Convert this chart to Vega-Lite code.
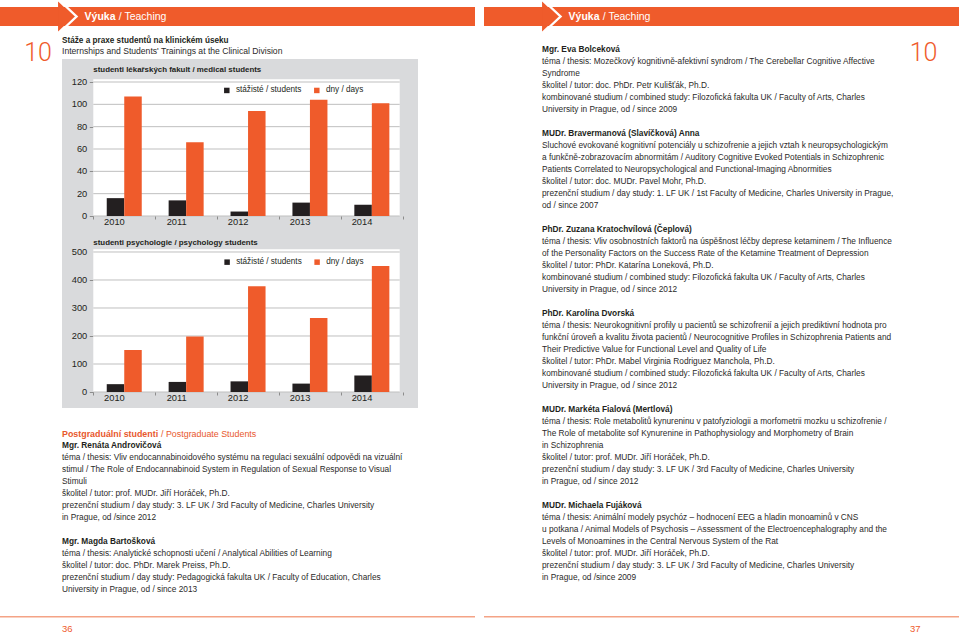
{
  "$schema": "https://vega.github.io/schema/vega-lite/v6.json",
  "padding": 0,
  "background": "#ffffff",
  "config": {
    "view": {"stroke": null},
    "font": "Liberation Sans",
    "text": {"color": "#2b2a29", "fontSize": 8.3, "align": "left", "baseline": "middle"},
    "axis": {"labelColor": "#231f20", "labelFontSize": 9.3, "tickColor": "#8c8c8c", "grid": false, "domain": false},
    "legend": {"labelColor": "#231f20", "labelFontSize": 8.2}
  },
  "datasets": {
    "pages": [
      {"page": "36", "section": "Výuka", "section_en": "/ Teaching"},
      {"page": "37", "section": "Výuka", "section_en": "/ Teaching"}
    ],
    "chapter": [{"chapter": "10"}],
    "medical": [
      {"year": "2010", "series": "stážisté / students", "value": 16},
      {"year": "2010", "series": "dny / days", "value": 107},
      {"year": "2011", "series": "stážisté / students", "value": 14},
      {"year": "2011", "series": "dny / days", "value": 66},
      {"year": "2012", "series": "stážisté / students", "value": 4},
      {"year": "2012", "series": "dny / days", "value": 94},
      {"year": "2013", "series": "stážisté / students", "value": 12},
      {"year": "2013", "series": "dny / days", "value": 104},
      {"year": "2014", "series": "stážisté / students", "value": 10},
      {"year": "2014", "series": "dny / days", "value": 101}
    ],
    "psych": [
      {"year": "2010", "series": "stážisté / students", "value": 28},
      {"year": "2010", "series": "dny / days", "value": 150},
      {"year": "2011", "series": "stážisté / students", "value": 36},
      {"year": "2011", "series": "dny / days", "value": 198},
      {"year": "2012", "series": "stážisté / students", "value": 38},
      {"year": "2012", "series": "dny / days", "value": 378},
      {"year": "2013", "series": "stážisté / students", "value": 30},
      {"year": "2013", "series": "dny / days", "value": 264},
      {"year": "2014", "series": "stážisté / students", "value": 59},
      {"year": "2014", "series": "dny / days", "value": 450}
    ],
    "medicalTicks": [{"tick": 0}, {"tick": 20}, {"tick": 40}, {"tick": 60}, {"tick": 80}, {"tick": 100}, {"tick": 120}],
    "psychTicks": [{"tick": 0}, {"tick": 100}, {"tick": 200}, {"tick": 300}, {"tick": 400}, {"tick": 500}],
    "titleText": [
      {"line": 0, "kind": "name", "text": "Stáže a praxe studentů na klinickém úseku"},
      {"line": 1, "kind": "body", "text": "Internships and Students' Trainings at the Clinical Division"}
    ],
    "leftText": [
      {"line": 0, "kind": "heading", "text": "Postgraduální studenti", "en": "/ Postgraduate Students"},
      {"line": 1, "kind": "name", "text": "Mgr. Renáta Androvičová"},
      {"line": 2, "kind": "body", "text": "téma / thesis: Vliv endocannabinoidového systému na regulaci sexuální odpovědi na vizuální"},
      {"line": 3, "kind": "body", "text": "stimul / The Role of Endocannabinoid System in Regulation of Sexual Response to Visual"},
      {"line": 4, "kind": "body", "text": "Stimuli"},
      {"line": 5, "kind": "body", "text": "školitel / tutor: prof. MUDr. Jiří Horáček, Ph.D."},
      {"line": 6, "kind": "body", "text": "prezenční studium / day study: 3. LF UK / 3rd Faculty of Medicine, Charles University"},
      {"line": 7, "kind": "body", "text": "in Prague, od /since 2012"},
      {"line": 9, "kind": "name", "text": "Mgr. Magda Bartošková"},
      {"line": 10, "kind": "body", "text": "téma / thesis: Analytické schopnosti učení / Analytical Abilities of Learning"},
      {"line": 11, "kind": "body", "text": "školitel / tutor: doc. PhDr. Marek Preiss, Ph.D."},
      {"line": 12, "kind": "body", "text": "prezenční studium / day study: Pedagogická fakulta UK / Faculty of Education, Charles"},
      {"line": 13, "kind": "body", "text": "University in Prague, od / since 2013"}
    ],
    "rightText": [
      {"line": 0, "kind": "name", "text": "Mgr. Eva Bolceková"},
      {"line": 1, "kind": "body", "text": "téma / thesis: Mozečkový kognitivně-afektivní syndrom / The Cerebellar Cognitive Affective"},
      {"line": 2, "kind": "body", "text": "Syndrome"},
      {"line": 3, "kind": "body", "text": "školitel / tutor: doc. PhDr. Petr Kulišťák, Ph.D."},
      {"line": 4, "kind": "body", "text": "kombinované studium / combined study: Filozofická fakulta UK / Faculty of Arts, Charles"},
      {"line": 5, "kind": "body", "text": "University in Prague, od / since 2009"},
      {"line": 7, "kind": "name", "text": "MUDr. Bravermanová (Slavíčková) Anna"},
      {"line": 8, "kind": "body", "text": "Sluchové evokované kognitivní potenciály u schizofrenie a jejich vztah k neuropsychologickým"},
      {"line": 9, "kind": "body", "text": "a funkčně-zobrazovacím abnormitám / Auditory Cognitive Evoked Potentials in Schizophrenic"},
      {"line": 10, "kind": "body", "text": "Patients Correlated to Neuropsychological and Functional-Imaging Abnormities"},
      {"line": 11, "kind": "body", "text": "školitel / tutor:  doc. MUDr. Pavel Mohr, Ph.D."},
      {"line": 12, "kind": "body", "text": "prezenční studium / day study: 1. LF UK / 1st Faculty of Medicine, Charles University in Prague,"},
      {"line": 13, "kind": "body", "text": "od / since 2007"},
      {"line": 15, "kind": "name", "text": "PhDr. Zuzana Kratochvílová (Čeplová)"},
      {"line": 16, "kind": "body", "text": "téma / thesis: Vliv osobnostních faktorů na úspěšnost léčby deprese ketaminem / The Influence"},
      {"line": 17, "kind": "body", "text": "of the Personality Factors on the Success Rate of the Ketamine Treatment of Depression"},
      {"line": 18, "kind": "body", "text": "školitel / tutor: PhDr. Katarína Loneková, Ph.D."},
      {"line": 19, "kind": "body", "text": "kombinované studium / combined study: Filozofická fakulta UK / Faculty of Arts, Charles"},
      {"line": 20, "kind": "body", "text": "University in Prague, od / since 2012"},
      {"line": 22, "kind": "name", "text": "PhDr. Karolína Dvorská"},
      {"line": 23, "kind": "body", "text": "téma / thesis: Neurokognitivní profily u pacientů se schizofrenií a jejich prediktivní hodnota pro"},
      {"line": 24, "kind": "body", "text": "funkční úroveň a kvalitu života pacientů / Neurocognitive Profiles in Schizophrenia Patients and"},
      {"line": 25, "kind": "body", "text": "Their Predictive Value for Functional Level and Quality of Life"},
      {"line": 26, "kind": "body", "text": "školitel / tutor: PhDr. Mabel Virginia Rodriguez Manchola, Ph.D."},
      {"line": 27, "kind": "body", "text": "kombinované studium / combined study: Filozofická fakulta UK / Faculty of Arts, Charles"},
      {"line": 28, "kind": "body", "text": "University in Prague, od / since 2012"},
      {"line": 30, "kind": "name", "text": "MUDr. Markéta Fialová (Mertlová)"},
      {"line": 31, "kind": "body", "text": "téma / thesis: Role metabolitů kynureninu v patofyziologii a morfometrii mozku u schizofrenie /"},
      {"line": 32, "kind": "body", "text": "The Role of metabolite sof Kynurenine in Pathophysiology and Morphometry of Brain"},
      {"line": 33, "kind": "body", "text": "in Schizophrenia"},
      {"line": 34, "kind": "body", "text": "školitel / tutor: prof. MUDr. Jiří Horáček, Ph.D."},
      {"line": 35, "kind": "body", "text": "prezenční studium / day study: 3. LF UK / 3rd Faculty of Medicine, Charles University"},
      {"line": 36, "kind": "body", "text": "in Prague, od / since 2012"},
      {"line": 38, "kind": "name", "text": "MUDr. Michaela Fujáková"},
      {"line": 39, "kind": "body", "text": "téma / thesis: Animální modely psychóz – hodnocení EEG a hladin monoaminů v CNS"},
      {"line": 40, "kind": "body", "text": "u potkana / Animal Models of Psychosis – Assessment of the Electroencephalography and the"},
      {"line": 41, "kind": "body", "text": "Levels of Monoamines in the Central Nervous System of the Rat"},
      {"line": 42, "kind": "body", "text": "školitel / tutor: prof. MUDr. Jiří Horáček, Ph.D."},
      {"line": 43, "kind": "body", "text": "prezenční studium / day study: 3. LF UK / 3rd Faculty of Medicine, Charles University"},
      {"line": 44, "kind": "body", "text": "in Prague, od /since 2009"}
    ]
  },
  "spacing": 0,
  "bounds": "full",
  "resolve": {"scale": {"color": "independent", "xOffset": "independent"}, "legend": {"color": "independent"}},
  "vconcat": [
    {
      "width": 959,
      "height": 35,
      "data": {"name": "pages"},
      "encoding": {
        "x": {"field": "page", "type": "nominal", "scale": {"type": "band", "paddingInner": 0.0186, "paddingOuter": 0}, "axis": null},
        "y": {"field": "section", "type": "nominal", "scale": {"type": "band", "paddingInner": 0, "paddingOuter": 0.421, "align": 0.4375}, "axis": null}
      },
      "layer": [
        {"mark": {"type": "rect", "color": "#ef5b2b"}},
        {
          "mark": {"type": "point", "shape": "M-0.53,-1L0.53,0L-0.53,1Z", "filled": true, "color": "#ef5b2b", "size": 900, "opacity": 1, "strokeWidth": 0},
          "encoding": {"x": {"field": "page", "type": "nominal", "bandPosition": 0.139}}
        },
        {
          "mark": {"type": "point", "shape": "M-0.095,-0.75L0.70,0L-0.095,0.75", "filled": false, "color": "#ffffff", "strokeWidth": 2.4, "size": 900, "opacity": 1},
          "encoding": {"x": {"field": "page", "type": "nominal", "bandPosition": 0.139}}
        },
        {
          "mark": {"type": "text", "fontWeight": "bold", "fontSize": 10.5, "color": "#ffffff", "align": "left"},
          "encoding": {"x": {"field": "page", "type": "nominal", "bandPosition": 0.178}, "text": {"field": "section"}}
        },
        {
          "mark": {"type": "text", "fontSize": 10.5, "color": "#ffffff", "align": "left"},
          "encoding": {"x": {"field": "page", "type": "nominal", "bandPosition": 0.25}, "text": {"field": "section_en"}}
        }
      ]
    },
    {
      "spacing": 0,
      "bounds": "full",
      "resolve": {"scale": {"color": "independent", "xOffset": "independent"}, "legend": {"color": "independent"}},
      "hconcat": [
        {
          "width": 62,
          "height": 35,
          "data": {"name": "chapter"},
          "mark": {"type": "text", "font": "Roboto", "fontWeight": 300, "fontSize": 25, "color": "#ef5b2b", "align": "center", "dx": 7},
          "encoding": {"text": {"field": "chapter"}}
        },
        {
          "spacing": 0,
          "bounds": "flush",
          "resolve": {"scale": {"color": "independent", "xOffset": "independent"}, "legend": {"color": "independent"}},
          "vconcat": [
            {
              "width": 480,
              "height": 24,
              "data": {"name": "titleText"},
              "encoding": {
                "x": {"datum": "col", "type": "nominal", "scale": {"type": "band", "paddingInner": 0, "paddingOuter": 0}, "bandPosition": 0, "axis": null},
                "y": {"field": "line", "type": "quantitative", "scale": {"domain": [-0.63, 1.77], "reverse": true, "nice": false, "zero": false}, "axis": null},
                "text": {"field": "text"}
              },
              "layer": [
                {"transform": [{"filter": "datum.kind === 'name'"}], "mark": {"type": "text", "fontWeight": "bold", "fontSize": 8.2, "color": "#231f20"}},
                {"transform": [{"filter": "datum.kind === 'body'"}], "mark": {"type": "text", "fontSize": 8.6}}
              ]
            },
            {
              "width": 356,
              "height": 176,
              "view": {"fill": "#d9dadc", "stroke": null},
              "data": {"name": "medical"},
              "layer": [
                {
                  "data": {"values": [{"part": "plot"}]},
                  "mark": {"type": "rect", "color": "#ffffff"},
                  "encoding": {
                    "x": {"datum": "2010", "type": "ordinal", "bandPosition": 0, "scale": {"type": "band", "paddingInner": 0, "paddingOuter": 0.3756, "align": 0.673}},
                    "x2": {"datum": "2014", "bandPosition": 0.95},
                    "y": {"datum": 0, "type": "quantitative", "scale": {"domain": [-17.01, 140.6], "nice": false, "zero": false}},
                    "y2": {"datum": 122.4}
                  }
                },
                {
                  "data": {"name": "medicalTicks"},
                  "mark": {"type": "rule", "color": "#bfbfbf", "strokeWidth": 1},
                  "encoding": {
                    "x": {"datum": "2010", "type": "ordinal", "bandPosition": 0, "scale": {"type": "band", "paddingInner": 0, "paddingOuter": 0.3756, "align": 0.673}},
                    "x2": {"datum": "2014", "bandPosition": 0.95},
                    "y": {"field": "tick", "type": "quantitative", "scale": {"domain": [-17.01, 140.6], "nice": false, "zero": false}}
                  }
                },
                {
                  "data": {"name": "medicalTicks"},
                  "mark": {"type": "text", "align": "right", "dx": -6, "fontSize": 9.3, "color": "#231f20"},
                  "encoding": {
                    "x": {"datum": "2010", "type": "ordinal", "bandPosition": 0, "scale": {"type": "band", "paddingInner": 0, "paddingOuter": 0.3756, "align": 0.673}},
                    "y": {"field": "tick", "type": "quantitative", "scale": {"domain": [-17.01, 140.6], "nice": false, "zero": false}},
                    "text": {"field": "tick"}
                  }
                },
                {
                  "mark": {"type": "bar"},
                  "encoding": {
                    "x": {"field": "year", "type": "ordinal", "scale": {"type": "band", "paddingInner": 0, "paddingOuter": 0.3756, "align": 0.673},
                      "axis": {"title": null, "labelAngle": 0, "tickBand": "extent", "tickSize": 3, "labelPadding": 2, "offset": -19}},
                    "xOffset": {"field": "series", "type": "nominal", "scale": {"domain": ["stážisté / students", "dny / days"], "paddingInner": 0, "paddingOuter": 0.768}},
                    "y": {"field": "value", "type": "quantitative", "scale": {"domain": [-17.01, 140.6], "nice": false, "zero": false},
                      "axis": {"title": null, "values": [0, 20, 40, 60, 80, 100, 120], "labels": false, "tickSize": 4, "offset": -31.3}},
                    "color": {"field": "series", "type": "nominal",
                      "scale": {"domain": ["stážisté / students", "dny / days"], "range": ["#231f20", "#ef5b2b"]},
                      "legend": {"title": null, "orient": "none", "legendX": 160.7, "legendY": 27, "direction": "horizontal", "symbolType": "square", "symbolSize": 30, "symbolStrokeWidth": 0, "labelOffset": 5, "columnPadding": 11, "padding": 0}}
                  }
                },
                {
                  "data": {"values": [{"title": "studenti lékařských fakult / medical students"}]},
                  "mark": {"type": "text", "fontWeight": "bold", "fontSize": 7.9, "align": "left", "color": "#231f20"},
                  "encoding": {
                    "x": {"datum": "2010", "type": "ordinal", "bandPosition": 0, "scale": {"type": "band", "paddingInner": 0, "paddingOuter": 0.3756, "align": 0.673}},
                    "y": {"datum": 130.75, "type": "quantitative", "scale": {"domain": [-17.01, 140.6], "nice": false, "zero": false}},
                    "text": {"field": "title"}
                  }
                }
              ]
            },
            {
              "width": 356,
              "height": 173,
              "view": {"fill": "#d9dadc", "stroke": null},
              "data": {"name": "psych"},
              "layer": [
                {
                  "data": {"values": [{"part": "plot"}]},
                  "mark": {"type": "rect", "color": "#ffffff"},
                  "encoding": {
                    "x": {"datum": "2010", "type": "ordinal", "bandPosition": 0, "scale": {"type": "band", "paddingInner": 0, "paddingOuter": 0.3756, "align": 0.673}},
                    "x2": {"datum": "2014", "bandPosition": 0.95},
                    "y": {"datum": 0, "type": "quantitative", "scale": {"domain": [-57.14, 560.71], "nice": false, "zero": false}},
                    "y2": {"datum": 509.6}
                  }
                },
                {
                  "data": {"name": "psychTicks"},
                  "mark": {"type": "rule", "color": "#bfbfbf", "strokeWidth": 1},
                  "encoding": {
                    "x": {"datum": "2010", "type": "ordinal", "bandPosition": 0, "scale": {"type": "band", "paddingInner": 0, "paddingOuter": 0.3756, "align": 0.673}},
                    "x2": {"datum": "2014", "bandPosition": 0.95},
                    "y": {"field": "tick", "type": "quantitative", "scale": {"domain": [-57.14, 560.71], "nice": false, "zero": false}}
                  }
                },
                {
                  "data": {"name": "psychTicks"},
                  "mark": {"type": "text", "align": "right", "dx": -6, "fontSize": 9.3, "color": "#231f20"},
                  "encoding": {
                    "x": {"datum": "2010", "type": "ordinal", "bandPosition": 0, "scale": {"type": "band", "paddingInner": 0, "paddingOuter": 0.3756, "align": 0.673}},
                    "y": {"field": "tick", "type": "quantitative", "scale": {"domain": [-57.14, 560.71], "nice": false, "zero": false}},
                    "text": {"field": "tick"}
                  }
                },
                {
                  "mark": {"type": "bar"},
                  "encoding": {
                    "x": {"field": "year", "type": "ordinal", "scale": {"type": "band", "paddingInner": 0, "paddingOuter": 0.3756, "align": 0.673},
                      "axis": {"title": null, "labelAngle": 0, "tickBand": "extent", "tickSize": 3, "labelPadding": 2, "offset": -16}},
                    "xOffset": {"field": "series", "type": "nominal", "scale": {"domain": ["stážisté / students", "dny / days"], "paddingInner": 0, "paddingOuter": 0.768}},
                    "y": {"field": "value", "type": "quantitative", "scale": {"domain": [-57.14, 560.71], "nice": false, "zero": false},
                      "axis": {"title": null, "values": [0, 100, 200, 300, 400, 500], "labels": false, "tickSize": 4, "offset": -31.3}},
                    "color": {"field": "series", "type": "nominal",
                      "scale": {"domain": ["stážisté / students", "dny / days"], "range": ["#231f20", "#ef5b2b"]},
                      "legend": {"title": null, "orient": "none", "legendX": 161, "legendY": 22.7, "direction": "horizontal", "symbolType": "square", "symbolSize": 30, "symbolStrokeWidth": 0, "labelOffset": 5, "columnPadding": 11, "padding": 0}}
                  }
                },
                {
                  "data": {"values": [{"title": "studenti psychologie / psychology students"}]},
                  "mark": {"type": "text", "fontWeight": "bold", "fontSize": 7.9, "align": "left", "color": "#231f20"},
                  "encoding": {
                    "x": {"datum": "2010", "type": "ordinal", "bandPosition": 0, "scale": {"type": "band", "paddingInner": 0, "paddingOuter": 0.3756, "align": 0.673}},
                    "y": {"datum": 533.9, "type": "quantitative", "scale": {"domain": [-57.14, 560.71], "nice": false, "zero": false}},
                    "text": {"field": "title"}
                  }
                }
              ]
            },
            {
              "width": 480,
              "height": 208,
              "data": {"name": "leftText"},
              "encoding": {
                "x": {"datum": "col", "type": "nominal", "scale": {"type": "band", "paddingInner": 0, "paddingOuter": 0}, "bandPosition": 0, "axis": null},
                "y": {"field": "line", "type": "quantitative", "scale": {"domain": [-2.125, 15.208], "reverse": true, "nice": false, "zero": false}, "axis": null},
                "text": {"field": "text"}
              },
              "layer": [
                {"transform": [{"filter": "datum.kind === 'heading'"}], "mark": {"type": "text", "fontWeight": "bold", "fontSize": 8.9, "color": "#e8582c"}},
                {"transform": [{"filter": "datum.kind === 'heading'"}], "mark": {"type": "text", "fontSize": 8.9, "color": "#e8582c", "dx": 99}, "encoding": {"text": {"field": "en"}}},
                {"transform": [{"filter": "datum.kind === 'name'"}], "mark": {"type": "text", "fontWeight": "bold", "color": "#231f20"}},
                {"transform": [{"filter": "datum.kind === 'body'"}], "mark": {"type": "text"}}
              ]
            }
          ]
        },
        {
          "width": 360,
          "height": 581,
          "data": {"name": "rightText"},
          "encoding": {
            "x": {"datum": "col", "type": "nominal", "scale": {"type": "band", "paddingInner": 0, "paddingOuter": 0}, "bandPosition": 0, "axis": null},
            "y": {"field": "line", "type": "quantitative", "scale": {"domain": [-1.275, 47.142], "reverse": true, "nice": false, "zero": false}, "axis": null},
            "text": {"field": "text"}
          },
          "layer": [
            {"transform": [{"filter": "datum.kind === 'name'"}], "mark": {"type": "text", "fontWeight": "bold", "color": "#231f20"}},
            {"transform": [{"filter": "datum.kind === 'body'"}], "mark": {"type": "text"}}
          ]
        },
        {
          "width": 57,
          "height": 35,
          "data": {"name": "chapter"},
          "mark": {"type": "text", "font": "Roboto", "fontWeight": 300, "fontSize": 25, "color": "#ef5b2b", "align": "center", "dx": -7},
          "encoding": {"text": {"field": "chapter"}}
        }
      ]
    },
    {
      "width": 959,
      "height": 1.5,
      "data": {"name": "pages"},
      "mark": {"type": "rect", "color": "#f4a386"},
      "encoding": {
        "x": {"field": "page", "type": "nominal", "scale": {"type": "band", "paddingInner": 0.0186, "paddingOuter": 0}, "axis": null}
      }
    },
    {
      "width": 959,
      "height": 17.5,
      "data": {"name": "pages"},
      "layer": [
        {
          "transform": [{"filter": "datum.page === '36'"}],
          "mark": {"type": "text", "fontSize": 9.5, "color": "#ef5b2b", "align": "left", "dy": 2},
          "encoding": {
            "x": {"field": "page", "type": "nominal", "bandPosition": 0.1305, "scale": {"type": "band", "paddingInner": 0.0186, "paddingOuter": 0}, "axis": null},
            "text": {"field": "page"}
          }
        },
        {
          "transform": [{"filter": "datum.page === '37'"}],
          "mark": {"type": "text", "fontSize": 9.5, "color": "#ef5b2b", "align": "left", "dy": 2},
          "encoding": {
            "x": {"field": "page", "type": "nominal", "bandPosition": 0.897, "scale": {"type": "band", "paddingInner": 0.0186, "paddingOuter": 0}, "axis": null},
            "text": {"field": "page"}
          }
        }
      ]
    }
  ]
}
